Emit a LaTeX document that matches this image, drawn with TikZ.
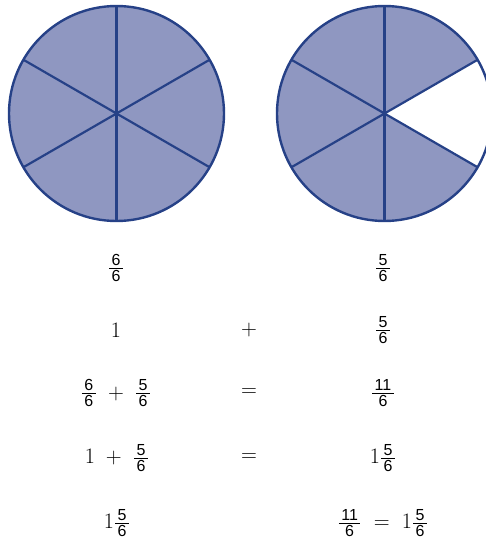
\RequirePackage{fix-cm}
\documentclass[tikz,border=0pt]{standalone}
\usepackage{amsmath}
\usepackage{fontspec}
\newfontfamily\digitfont{Liberation Sans}
\newcommand{\fd}[1]{\hbox{\fontsize{16}{16}\selectfont\digitfont\kern2.5pt #1\kern2.5pt}}
\newcommand{\fr}[2]{\frac{\fd{#1}}{\fd{#2}}}
\definecolor{piefill}{RGB}{143,151,193}
\definecolor{pieline}{RGB}{38,65,135}
\tikzset{
  pie/.style={draw=pieline, line width=2.4pt},
  spoke/.style={draw=pieline, line width=2.2pt},
  mathlabel/.style={inner sep=0pt, font=\fontsize{22}{26}\selectfont},
}
\begin{document}
\begin{tikzpicture}[x=1pt,y=-1pt]
\useasboundingbox (0,0) rectangle (486,544);
\clip (0,0) rectangle (486,544);
% left circle: 6/6
\coordinate (L) at (116.5,113.5);
\fill[piefill] (L) circle[radius=107.5];
\foreach \a in {90,270,30,150,210,330} \draw[spoke] (L) -- ++(-\a:107.5);
\draw[pie] (L) circle[radius=107.5];
% right circle: 5/6
\coordinate (R) at (384.5,113.5);
\fill[piefill] (R) circle[radius=107.5];
\fill[white] (R) -- ++(30:107.5) arc[start angle=30, end angle=-30, radius=107.5] -- cycle;
\foreach \a in {90,270,30,150,210,330} \draw[spoke] (R) -- ++(-\a:107.5);
\draw[pie] (R) circle[radius=107.5];
% rows
\node[mathlabel] (r1l) at (116,268) {$\fr{6}{6}$};
\node[mathlabel] (r1r) at (383,268) {$\fr{5}{6}$};
\node[mathlabel] (r2l) at (116,330) {$1$};
\node[mathlabel] (r2m) at (249,330) {$+$};
\node[mathlabel] (r2r) at (383,330) {$\fr{5}{6}$};
\node[mathlabel] (r3l) at (116,393) {$\fr{6}{6}\;+\;\fr{5}{6}$};
\node[mathlabel] (r3m) at (249,393) {$=$};
\node[mathlabel] (r3r) at (383,393) {$\fr{11}{6}$};
\node[mathlabel] (r4l) at (117,458) {$1\;+\;\fr{5}{6}$};
\node[mathlabel] (r4m) at (249,458) {$=$};
\node[mathlabel] (r4r) at (383,458) {$1\fr{5}{6}$};
\node[mathlabel] (r5l) at (117,523) {$1\fr{5}{6}$};
\node[mathlabel] (r5r) at (383,523) {$\fr{11}{6}\;=\;1\fr{5}{6}$};
\end{tikzpicture}
\end{document}
